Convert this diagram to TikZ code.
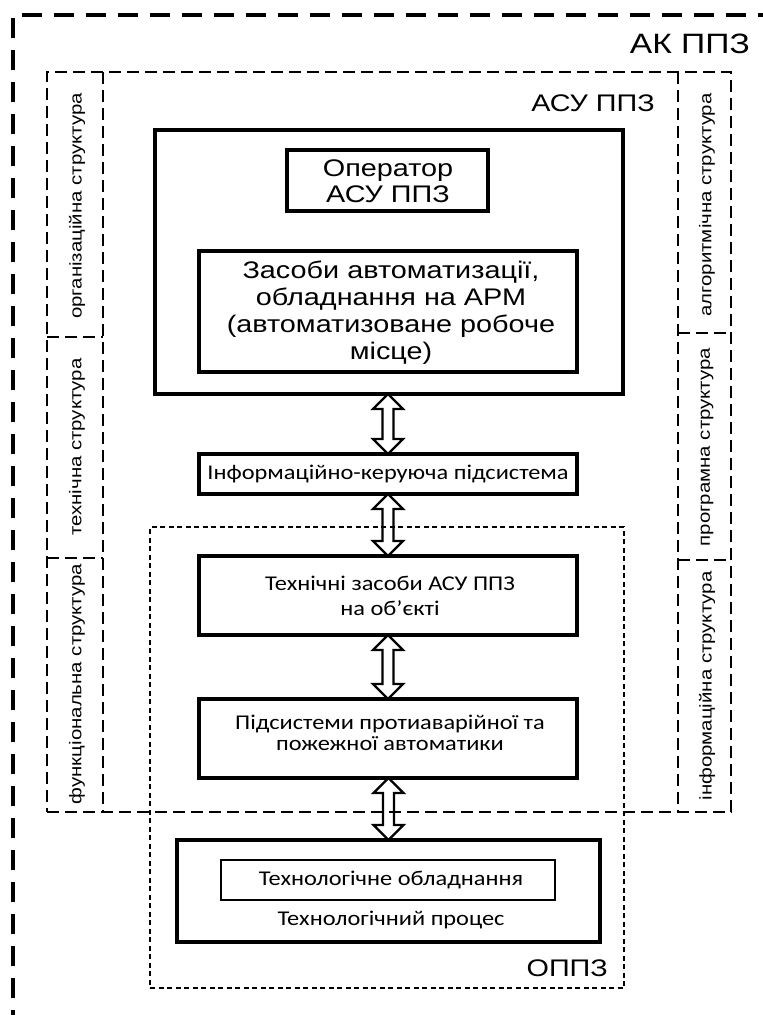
\documentclass[tikz,border=0pt]{standalone}
\usepackage{fontspec}
\newfontfamily\af{Liberation Sans}[FakeStretch=1.2]
\newfontfamily\cf{Carlito}[FakeStretch=1.16]
\usetikzlibrary{calc}
\tikzset{
  box/.style={draw, line width=3.2pt, rectangle, inner sep=0pt, outer sep=0pt, align=center},
  akline/.style={line width=4.2pt, dash pattern=on 20pt off 12pt},
  asuline/.style={line width=2.8pt, dash pattern=on 12pt off 6pt},
  oppzline/.style={line width=2.8pt, dash pattern=on 5pt off 3.5pt},
  dblarr/.style={draw, line width=2.2pt, line join=miter},
  sidel/.style={rotate=90, inner sep=0pt, font=\af\fontsize{17}{20}\selectfont},
  sider/.style={rotate=90, inner sep=0pt, font=\af\fontsize{17}{20}\selectfont},
  atext/.style={align=center, inner sep=0pt, font=\af\fontsize{24}{26.5}\selectfont},
  ctext/.style={align=center, inner sep=0pt, font=\cf\fontsize{21}{25}\selectfont},
}
\newcommand\dblarrow[2]{%
  \path (#1.south -| #2.north) coordinate (t#2);
  \draw[dblarr] (t#2) -- ($(t#2)+(15,15)$) -- ($(t#2)+(5.5,15)$)
    -- ($(#2.north)+(5.5,-15)$) -- ($(#2.north)+(15,-15)$) -- (#2.north)
    -- ($(#2.north)+(-15,-15)$) -- ($(#2.north)+(-5.5,-15)$)
    -- ($(t#2)+(-5.5,15)$) -- ($(t#2)+(-15,15)$) -- cycle;}
\begin{document}
\begin{tikzpicture}[x=1pt,y=-1pt]
\useasboundingbox[fill=white] (0,0) rectangle (763,1015);
% AK PPZ open frame
\coordinate (akbl) at (13,1030);
\coordinate (aktl) at (13,15);
\coordinate (aktr) at (775,15);
\draw[akline] (akbl) -- (aktl) -- (aktr);
\node[anchor=base east, inner sep=0pt, font=\af\fontsize{28}{30}\selectfont] (aklbl) at (750,53) {АК ППЗ};
% ASU PPZ frame
\node[draw, asuline, rectangle, minimum width=684pt, minimum height=740pt, inner sep=0pt, outer sep=0pt] (asu) at (389,442) {};
\coordinate (lc1) at (103,72);  \coordinate (lc2) at (103,812);
\coordinate (rc1) at (678,72);  \coordinate (rc2) at (678,812);
\draw[asuline] (lc1) -- (lc2);
\draw[asuline] (rc1) -- (rc2);
\draw[asuline] (47,337) -- (103,337);
\draw[asuline] (47,558) -- (103,558);
\draw[asuline] (678,333) -- (731,333);
\draw[asuline] (678,560) -- (731,560);
\node[anchor=base east, inner sep=0pt, font=\af\fontsize{24}{26}\selectfont] (asulbl) at (655,111) {АСУ ППЗ};
% side texts
\node[sidel] (s1) at (77,206) {організаційна структура};
\node[sidel] (s2) at (77,447) {технічна структура};
\node[sidel] (s3) at (77,684) {функціональна структура};
\node[sider] (s4) at (707,205) {алгоритмічна структура};
\node[sider] (s5) at (707,447) {програмна структура};
\node[sider] (s6) at (707,686) {інформаційна структура};
% OPPZ dotted frame
\node[draw, oppzline, rectangle, minimum width=474pt, minimum height=461pt, inner sep=0pt, outer sep=0pt] (oppz) at (387,757.5) {};
\node[anchor=base east, inner sep=0pt, font=\af\fontsize{24}{26}\selectfont] (oppzlbl) at (608,976) {ОППЗ};
% boxes
\node[box, line width=4.2pt, minimum width=468pt, minimum height=264pt] (big) at (389,262) {};
\node[box, minimum width=201pt, minimum height=61pt] (oper) at (387.5,180.5) {};
\node[atext] (opertxt) at (388,181) {Оператор\\АСУ ППЗ};
\node[box, minimum width=378pt, minimum height=121pt] (zas) at (388,311.5) {};
\node[atext, font=\af\fontsize{24}{27}\selectfont] (zastxt) at (391,313) {Засоби автоматизації,\\обладнання на АРМ\\(автоматизоване робоче\\місце)};
\node[box, minimum width=378pt, minimum height=40pt] (info) at (388,474) {};
\node[ctext] (infotxt) at (388,474) {Інформаційно-керуюча підсистема};
\node[box, minimum width=378pt, minimum height=79pt] (tech) at (388,595.5) {};
\node[ctext] (techtxt) at (390,596) {Технічні засоби АСУ ППЗ\\на об’єкті};
\node[box, minimum width=378pt, minimum height=79pt] (pids) at (388,738.5) {};
\node[ctext, font=\cf\fontsize{21}{21.5}\selectfont] (pidstxt) at (390,733) {Підсистеми протиаварійної та\\пожежної автоматики};
\node[box, minimum width=423pt, minimum height=102pt] (proc) at (388.5,891) {};
\node[box, line width=2.4pt, minimum width=334pt, minimum height=40pt] (equip) at (388,880) {};
\node[ctext] (equiptxt) at (391,880) {Технологічне обладнання};
\node[ctext] (proctxt) at (391,920) {Технологічний процес};
% arrows
\dblarrow{big}{info}
\dblarrow{info}{tech}
\dblarrow{tech}{pids}
\dblarrow{pids}{proc}
\end{tikzpicture}
\end{document}
